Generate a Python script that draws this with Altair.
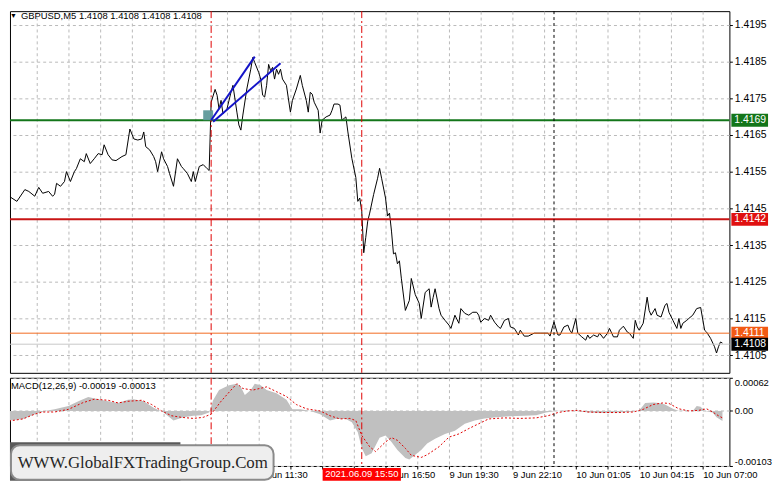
import altair as alt
import pandas as pd

# ---------------- data (bar index = 5-minute bars, price) ----------------
price_points = [
    (0, 1.41491), (2, 1.41483), (6, 1.41469), (10, 1.41501), (12, 1.41496), (15, 1.41483), (17, 1.41507),
    (19, 1.41491), (22, 1.41496), (24, 1.41483), (25, 1.41488), (26, 1.41518), (28, 1.4151), (30, 1.41523),
    (31, 1.4155), (33, 1.41523), (35, 1.4155), (36, 1.41558), (38, 1.41585), (40, 1.41577), (41, 1.41599),
    (43, 1.41572), (45, 1.41585), (47, 1.41599), (49, 1.41596), (50, 1.41623), (52, 1.41596), (54, 1.41582),
    (56, 1.4158), (59, 1.41591), (61, 1.41596), (63, 1.41666), (65, 1.41639), (67, 1.41636), (69, 1.41639),
    (70, 1.41658), (71, 1.41618), (73, 1.41609), (75, 1.41591), (76, 1.41577), (77, 1.4155), (79, 1.41604),
    (80, 1.41585), (82, 1.41564), (83, 1.41545), (85, 1.4151), (87, 1.41585), (89, 1.41564), (90, 1.41558),
    (92, 1.41545), (94, 1.41523), (95, 1.4155), (96, 1.41523), (98, 1.41564), (100, 1.41569), (102, 1.41558),
    (103, 1.41553), (104, 1.41739), (106, 1.41774), (107, 1.41758), (108, 1.4172), (109, 1.41744),
    (110, 1.41707), (112, 1.41721), (114, 1.41766), (115, 1.41785), (117, 1.41712), (118, 1.41677),
    (119, 1.41663), (120, 1.41704), (122, 1.41775), (124, 1.41829), (125, 1.41861), (126, 1.41847),
    (128, 1.4182), (129, 1.41802), (130, 1.41758), (131, 1.41753), (132, 1.41785), (133, 1.41842),
    (134, 1.41825), (135, 1.41834), (136, 1.41802), (137, 1.41829), (138, 1.41815), (139, 1.41829),
    (140, 1.41802), (142, 1.41785), (143, 1.41748), (144, 1.41712), (145, 1.41744), (147, 1.41775),
    (149, 1.41812), (150, 1.41785), (152, 1.41744), (153, 1.41712), (154, 1.41766), (155, 1.41761),
    (156, 1.41739), (158, 1.41717), (159, 1.41655), (160, 1.4169), (162, 1.41699), (164, 1.41704),
    (165, 1.41717), (166, 1.41734), (168, 1.41734), (169, 1.41731), (170, 1.4169), (172, 1.41699),
    (173, 1.41658), (175, 1.41586), (177, 1.41534), (178, 1.41469), (179, 1.41478), (180, 1.41442),
    (181, 1.41329), (182, 1.4137), (183, 1.41415), (184, 1.41437), (186, 1.41488), (188, 1.41532),
    (189, 1.41559), (190, 1.41532), (192, 1.41478), (193, 1.41429), (194, 1.41437), (195, 1.41388),
    (196, 1.41326), (197, 1.41329), (198, 1.41299), (199, 1.41307), (200, 1.41258), (202, 1.41172),
    (204, 1.41199), (205, 1.41259), (207, 1.41215), (209, 1.41191), (210, 1.4115), (212, 1.41221),
    (214, 1.41231), (215, 1.41181), (216, 1.41207), (217, 1.41231), (219, 1.41177), (220, 1.41159),
    (222, 1.41145), (224, 1.41132), (225, 1.41123), (227, 1.41159), (229, 1.41137), (230, 1.41177),
    (232, 1.41164), (234, 1.41159), (236, 1.41167), (238, 1.41167), (239, 1.41159), (240, 1.4114),
    (242, 1.4115), (244, 1.41145), (245, 1.41159), (247, 1.4114), (249, 1.41127), (250, 1.41123),
    (252, 1.41145), (254, 1.4115), (255, 1.41127), (257, 1.41123), (259, 1.41105), (260, 1.41118),
    (262, 1.41102), (264, 1.41102), (267, 1.4111), (270, 1.4111), (274, 1.4111), (275, 1.41102),
    (276, 1.41123), (277, 1.4114), (279, 1.41105), (280, 1.41105), (282, 1.41127), (284, 1.41132),
    (285, 1.41118), (286, 1.4111), (288, 1.4115), (289, 1.4111), (291, 1.411), (293, 1.41091),
    (294, 1.41105), (295, 1.41096), (297, 1.41105), (299, 1.411), (300, 1.4111), (302, 1.41096),
    (304, 1.4111), (305, 1.41123), (307, 1.411), (309, 1.411), (310, 1.41118), (312, 1.41129),
    (314, 1.41113), (315, 1.4111), (317, 1.41096), (318, 1.41145), (319, 1.41127), (320, 1.41118),
    (322, 1.41137), (324, 1.41208), (325, 1.41172), (326, 1.41159), (328, 1.41177), (329, 1.41159),
    (331, 1.41154), (333, 1.41186), (334, 1.41191), (335, 1.41167), (337, 1.41145), (339, 1.41123),
    (340, 1.4115), (341, 1.41123), (342, 1.41137), (344, 1.41145), (345, 1.4115), (347, 1.41159),
    (349, 1.41177), (351, 1.4118), (353, 1.41118), (354, 1.41113), (356, 1.41096), (358, 1.41073),
    (359, 1.41056), (360, 1.41073), (361, 1.41086), (362, 1.41083),
]

macd_hist = [
    (0, -0.00019), (9, -0.00015), (15, -0.00006), (20, 0.0), (25, 0.00003), (32, 0.00009), (37, 0.00018),
    (42, 0.00026), (47, 0.00022), (52, 0.00018), (57, 0.00015), (62, 0.00021), (65, 0.00022), (70, 0.00018),
    (75, 0.00006), (80, -0.00003), (85, -0.00018), (90, -0.00012), (95, -0.00009), (99, -0.00008),
    (103, -0.00003), (105, 0.0002), (108, 0.00039), (113, 0.00048), (117, 0.00051), (119, 0.00045),
    (121, 0.0003), (124, 0.00039), (126, 0.00051), (129, 0.00048), (132, 0.00039), (137, 0.00033),
    (142, 0.00021), (145, 0.00003), (149, 0.00003), (154, 0.0), (159, -0.00006), (164, -0.00018),
    (167, -0.00015), (172, -0.00015), (175, -0.00021), (178, -0.0004), (180, -0.0007), (182, -0.00085),
    (185, -0.00079), (189, -0.0005), (192, -0.00046), (195, -0.00058), (198, -0.00073), (202, -0.00088),
    (204, -0.00091), (207, -0.00082), (210, -0.00073), (213, -0.00061), (217, -0.00052), (222, -0.00043),
    (227, -0.00037), (232, -0.00024), (237, -0.00018), (242, -0.00014), (248, -0.00012), (255, -0.0001),
    (262, -0.00009), (268, -0.00008), (273, -0.00003), (278, 0.0), (283, 0.00001), (288, 0.0),
    (295, -0.00003), (302, -0.00004), (308, -0.00003), (315, -0.00002), (320, 0.00001), (323, 0.00015),
    (327, 0.00016), (330, 0.00015), (333, 0.00012), (337, 0.00004), (340, 0.0), (343, 0.00001), (347, 0.0),
    (349, 0.00009), (351, 0.00008), (353, 0.0), (357, -0.00003), (359, -0.00012), (362, -0.00019),
]

macd_signal = [
    (0, -0.0002), (9, -0.00015), (15, -0.00006), (19, -0.00002), (25, -0.00002), (32, 0.00003),
    (39, 0.00015), (45, 0.00022), (52, 0.0002), (57, 0.00015), (62, 0.00018), (69, 0.0002), (74, 0.00012),
    (79, 0.0), (84, -0.00009), (89, -0.00012), (95, -0.00014), (100, -0.00012), (104, -0.00006),
    (109, 0.00018), (114, 0.00039), (117, 0.00051), (120, 0.00042), (125, 0.00039), (132, 0.00045),
    (137, 0.00036), (142, 0.00027), (147, 0.00012), (152, 0.00004), (159, 0.0), (164, -0.00009),
    (169, -0.00015), (174, -0.00014), (177, -0.00018), (180, -0.00046), (184, -0.00067), (187, -0.00076),
    (192, -0.00058), (195, -0.0005), (198, -0.00055), (202, -0.0007), (205, -0.00083), (210, -0.00087),
    (213, -0.00082), (219, -0.00067), (224, -0.00049), (229, -0.00043), (234, -0.00033), (239, -0.00024),
    (244, -0.00015), (252, -0.00013), (260, -0.00014), (268, -0.00013), (274, -0.00009), (279, -0.00003),
    (284, 0.0), (289, 0.00001), (294, -0.00002), (302, -0.00003), (309, -0.00003), (317, -0.00002),
    (322, 0.00003), (327, 0.00012), (332, 0.00015), (335, 0.00014), (340, 0.00004), (345, 0.0),
    (350, 0.00001), (354, 0.00004), (357, -0.00002), (360, -0.00009), (362, -0.00013),
]

# horizontal levels (green, red, orange, bid)
level_values = [1.4169, 1.4142, 1.4111, 1.4108]
level_labels = ["1.4169", "1.4142", "1.4111", "1.4108"]
level_colors = ["#13761A", "#C81414", "#F26A1E", "#C8C8C8"]
level_widths = [2, 2, 1, 1]
tag_colors = ["#13761A", "#E01010", "#F25A14", "#000000"]

# trend lines drawn by the analyst (two blue segments)
trend_idx = [104, 126, 105, 139]
trend_val = [1.4169, 1.41863, 1.41686, 1.41845]
trend_seg = ["a", "a", "b", "b"]

# small marker square
marker_idx = [100, 105]
marker_val = [1.4169, 1.41717]

red_vlines = [104, 180]
black_vlines = [277]

price_ticks = [1.4105, 1.4115, 1.4125, 1.4135, 1.4145, 1.4155, 1.4165, 1.4175, 1.4185, 1.4195]
macd_ticks = [-0.00103, 0.0, 0.00062]

time_idx = [128, 192, 224, 256, 288, 320, 352]
time_labels = ["9 Jun 11:30", "9 Jun 16:50", "9 Jun 19:30", "9 Jun 22:10", "10 Jun 01:05",
               "10 Jun 04:15", "10 Jun 07:00"]
grid_idx = list(range(16, 361, 16))

title_text = "GBPUSD,M5  1.4108 1.4108 1.4108 1.4108"
macd_text = "MACD(12,26,9) -0.00019 -0.00013"
cursor_text = "2021.06.09 15:50"
cursor_idx = 180
watermark = "WWW.GlobalFXTradingGroup.Com"

# ---------------- chart ----------------
FONT = "Liberation Sans"
W, H1, H2 = 726, 365, 89
xs = alt.Scale(domain=[2.5, 365.5], nice=False, zero=False)
ps = alt.Scale(domain=[1.41002, 1.41987], nice=False, zero=False)
ms = alt.Scale(domain=[-0.00103, 0.00062], nice=False, zero=False)

df_price = pd.DataFrame(price_points, columns=["i", "p"])
df_hist = pd.DataFrame(macd_hist, columns=["i", "m"])
df_sig = pd.DataFrame(macd_signal, columns=["i", "m"])
df_trend = pd.DataFrame({"i": trend_idx, "p": trend_val, "seg": trend_seg})
df_marker = pd.DataFrame({"i": [marker_idx[0]], "i2": [marker_idx[1]],
                          "p": [marker_val[0]], "p2": [marker_val[1]]})
df_tags = pd.DataFrame({"p": level_values, "lab": level_labels})
one = pd.DataFrame({"k": [0]})

GRID = dict(gridDash=[3, 3], gridColor="#B9B9B9", gridWidth=1)
LAB = dict(labelFont=FONT, labelColor="black", labelOverlap=False, title=None)

AX_MAIN_X = alt.Axis(values=grid_idx, grid=True, labels=False, ticks=False, domain=False, **GRID,
                     title=None)
AX_MAIN_Y = alt.Axis(orient="right", values=price_ticks, format=".4f", grid=True, domain=False,
                     tickSize=3, tickColor="black", labelPadding=2, labelFlush=False, labelFontSize=10.5,
                     **GRID, **LAB)
label_expr = " : ".join(f"datum.value == {i} ? '{t}'" for i, t in zip(time_idx, time_labels)) + " : ''"
AX_MACD_X = alt.Axis(values=grid_idx, grid=True, labelExpr=label_expr, labelAlign="left",
                     labelBaseline="top", labelPadding=1, labelFlush=False, labelBound=False,
                     labelFontSize=9.5, tickSize=3, tickColor="black", domain=False, **GRID, **LAB)
AX_MACD_Y = alt.Axis(orient="right", values=macd_ticks, grid=True, domain=False,
                     labelExpr="datum.value > 0.0003 ? '0.00062' : "
                               "(datum.value < -0.0005 ? '-0.00103' : '0.00')",
                     tickSize=3, tickColor="black", labelPadding=2, labelFlush=True, labelFontSize=9.5,
                     **GRID, **LAB)


def MX(field="i"):
    return alt.X(f"{field}:Q", scale=xs, axis=AX_MAIN_X)


def PY(field="p"):
    return alt.Y(f"{field}:Q", scale=ps, axis=AX_MAIN_Y)


def BX(field="i"):
    return alt.X(f"{field}:Q", scale=xs, axis=AX_MACD_X)


def MY(field="m"):
    return alt.Y(f"{field}:Q", scale=ms, axis=AX_MACD_Y)


def vrule(v, color, dash, ax):
    return alt.Chart(one).mark_rule(color=color, strokeWidth=1, strokeDash=dash).encode(
        x=alt.XDatum(v, type="quantitative", scale=xs, axis=ax))


RED_DASH = [7, 3, 2, 3]
BLACK_DASH = [3, 3]

# ---- main panel
price_line = alt.Chart(df_price).mark_line(color="black", strokeWidth=1, clip=True).encode(
    x=MX(), y=PY())

level_layers = []
for v, c, w in zip(level_values, level_colors, level_widths):
    level_layers.append(
        alt.Chart(one).mark_rule(color=c, strokeWidth=w).encode(
            y=alt.YDatum(v, type="quantitative", scale=ps, axis=AX_MAIN_Y))
    )

main_vrules = [vrule(v, "#E00000", RED_DASH, AX_MAIN_X) for v in red_vlines] + \
              [vrule(v, "black", BLACK_DASH, AX_MAIN_X) for v in black_vlines]

marker = alt.Chart(df_marker).mark_rect(color="#5F9A9A", opacity=0.95).encode(
    x=MX(), x2="i2:Q", y=PY(), y2="p2:Q")

trend = alt.Chart(df_trend).mark_line(color="#1414C8", strokeWidth=2).encode(
    x=MX(), y=PY(), detail="seg:N")

tag_rect = alt.Chart(df_tags).mark_rect(height=13, clip=False).encode(
    x=alt.value(728), x2=alt.value(765), y=PY(),
    color=alt.Color("lab:N", scale=alt.Scale(domain=level_labels, range=tag_colors), legend=None))
tag_text = alt.Chart(df_tags).mark_text(align="left", baseline="middle", color="white", font=FONT,
                                        fontSize=10.5, clip=False).encode(
    x=alt.value(731), y=PY(), text="lab:N")

title_tri = alt.Chart(one).mark_text(align="left", baseline="middle", fontSize=7, color="black").encode(
    x=alt.value(0), y=alt.value(5), text=alt.value("▼"))
title = alt.Chart(one).mark_text(align="left", baseline="middle", font=FONT, fontSize=9.5,
                                  color="black").encode(
    x=alt.value(11), y=alt.value(5), text=alt.value(title_text))

main = alt.layer(price_line, *level_layers, *main_vrules, marker, trend, tag_rect, tag_text,
                 title_tri, title).properties(width=W, height=H1)

# ---- MACD panel
hist = alt.Chart(df_hist).mark_area(color="#C0C0C0", clip=True).encode(
    x=BX(), y=MY(), y2=alt.datum(0))
signal = alt.Chart(df_sig).mark_line(color="#E00000", strokeWidth=1, strokeDash=[2, 2], clip=True).encode(
    x=BX(), y=MY())
macd_vrules = [vrule(v, "#E00000", RED_DASH, AX_MACD_X) for v in red_vlines] + \
              [vrule(v, "black", BLACK_DASH, AX_MACD_X) for v in black_vlines]
macd_label = alt.Chart(one).mark_text(align="left", baseline="middle", font=FONT, fontSize=9.5,
                                       color="black").encode(
    x=alt.value(1), y=alt.value(8), text=alt.value(macd_text))

cursor_rect = alt.Chart(one).mark_rect(width=79, color="#FF0000", clip=False).encode(
    x=alt.XDatum(cursor_idx, type="quantitative", scale=xs, axis=AX_MACD_X),
    y=alt.value(91), y2=alt.value(104))
cursor_lab = alt.Chart(one).mark_text(align="center", baseline="middle", font=FONT, fontSize=9.5,
                                       color="white", clip=False).encode(
    x=alt.XDatum(cursor_idx, type="quantitative", scale=xs, axis=AX_MACD_X),
    y=alt.value(97.5), text=alt.value(cursor_text))

wm_shadow = alt.Chart(one).mark_rect(color="#5A5A5A", clip=False).encode(
    x=alt.value(0), x2=alt.value(172), y=alt.value(65), y2=alt.value(104))
wm_box = alt.Chart(one).mark_rect(fill="#EEEEEE", stroke="#8A8A8A", strokeWidth=2, cornerRadius=9,
                                  clip=False).encode(
    x=alt.value(1), x2=alt.value(266), y=alt.value(68), y2=alt.value(103))
wm_text = alt.Chart(one).mark_text(align="center", baseline="middle", font="Liberation Serif",
                                   fontSize=17, color="#262626", clip=False).encode(
    x=alt.value(134), y=alt.value(86), text=alt.value(watermark))

macd = alt.layer(hist, signal, *macd_vrules, macd_label, cursor_rect, cursor_lab,
                 wm_shadow, wm_box, wm_text).properties(width=W, height=H2)

chart = alt.vconcat(main, macd, spacing=3, padding=0).configure(
    background="white", font=FONT
).configure_view(stroke="black", strokeWidth=1)

chart.save("out.html", embed_options={"renderer": "svg", "actions": False})
